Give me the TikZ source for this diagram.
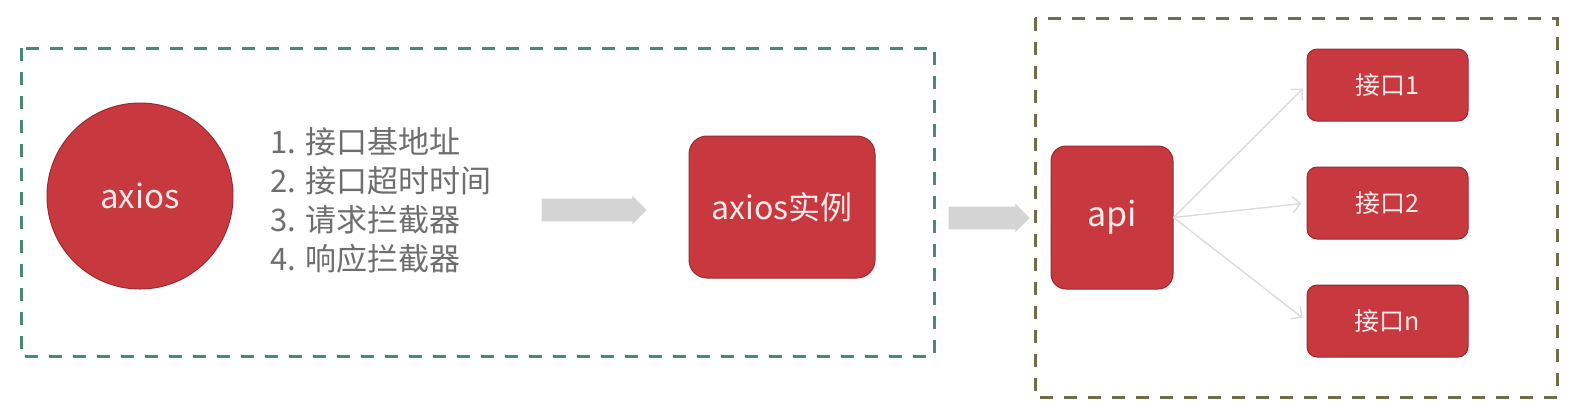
\documentclass[tikz,border=0pt]{standalone}
\usepackage{fontspec}
\setmainfont{Noto Sans CJK SC}
\usetikzlibrary{shapes.arrows,arrows.meta}

\definecolor{boxred}{HTML}{C8383F}
\definecolor{boxedge}{HTML}{9A2A30}
\definecolor{labelpink}{HTML}{FCEAEA}
\definecolor{flowgray}{HTML}{D4D4D4}
\definecolor{linkgray}{HTML}{DCDCDC}
\definecolor{textgray}{HTML}{6E6E6E}
\definecolor{frameteal}{HTML}{4A8A6E}
\definecolor{frameolive}{HTML}{6F6E48}

\tikzset{
  redbox/.style={fill=boxred, draw=boxedge, line width=0.5pt, text=labelpink, inner sep=0pt},
  blockarrow/.style={single arrow, fill=flowgray, draw=none, inner xsep=0pt, inner ysep=5.5pt,
    single arrow head extend=1.5pt},
  frame/.style={dash pattern=on 6.5pt off 5.5pt, line width=1.5pt},
  link/.style={linkgray, line width=0.7pt, -{Straight Barb[length=4pt]}, shorten >=2.5pt}
}

\begin{document}
\begin{tikzpicture}[x=0.5pt, y=-0.5pt]

  \useasboundingbox (0,0) rectangle (1581,419);

  % --- left frame: building the instance ---
  \draw[frame, frameteal] (21,48) rectangle (934,356);

  \node[redbox, circle, minimum size=93pt, font=\fontsize{16.5}{20}\selectfont] (axios) at (140,196) {axios};

  \node[anchor=base west, align=left, text=textgray, inner sep=0pt,
        font=\fontsize{15.5}{19.5}\selectfont] (opts) at (270,270)
    {1. 接口基地址\\2. 接口超时时间\\3. 请求拦截器\\4. 响应拦截器};

  \node[blockarrow, minimum height=52.5pt] (toinst) at (588.5,210) {};

  \node[redbox, rounded corners=9pt, minimum width=93pt, minimum height=71pt,
        font=\fontsize{16}{19}\selectfont] (inst) at (782,207) {axios实例};

  \node[blockarrow, minimum height=40.5pt] (toapi) at (983.5,218) {};

  % --- right frame: api module ---
  \draw[frame, frameolive] (1035,18) rectangle (1557,397);

  \node[redbox, rounded corners=7.5pt, minimum width=61pt, minimum height=71.5pt,
        font=\fontsize{17}{20}\selectfont] (api) at (1112,217.5) {api};

  \node[redbox, rounded corners=5pt, minimum width=80.5pt, minimum height=36pt,
        font=\fontsize{12.5}{15}\selectfont] (if1) at (1387.5,85) {接口1};
  \node[redbox, rounded corners=5pt, minimum width=80.5pt, minimum height=36pt,
        font=\fontsize{12.5}{15}\selectfont] (if2) at (1387.5,203) {接口2};
  \node[redbox, rounded corners=5pt, minimum width=80.5pt, minimum height=36pt,
        font=\fontsize{12.5}{15}\selectfont] (ifn) at (1387.5,321) {接口n};

  \draw[link] (api.east) -- (if1.west);
  \draw[link] (api.east) -- (if2.west);
  \draw[link] (api.east) -- (ifn.west);

\end{tikzpicture}
\end{document}
